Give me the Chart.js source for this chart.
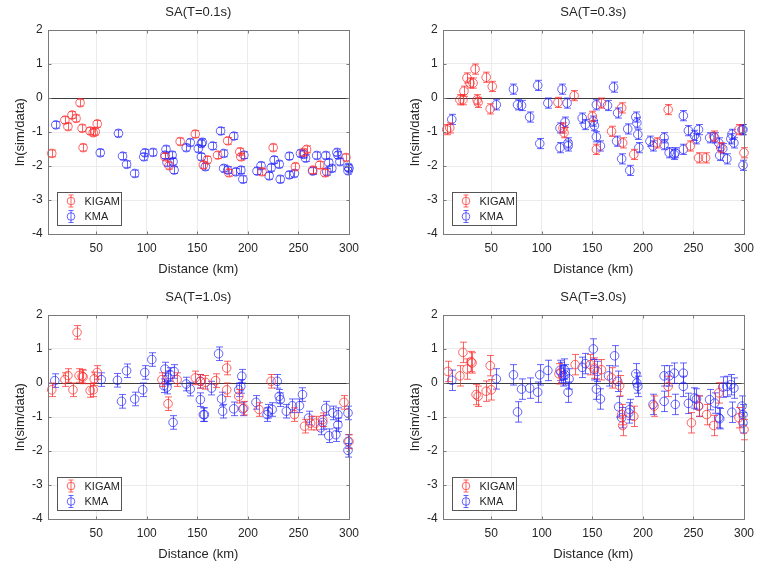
<!DOCTYPE html>
<html><head><meta charset="utf-8">
<script src="https://cdn.jsdelivr.net/npm/chart.js@4.4.0/dist/chart.umd.min.js"></script>
<style>
html,body{margin:0;padding:0;background:#fff;overflow:hidden;width:779px;height:581px;}
.p{position:absolute;width:397px;height:290px;}
</style></head><body>
<div class="p" style="left:0;top:0"><canvas id="c0" width="397" height="290"></canvas></div>
<div class="p" style="left:395px;top:0"><canvas id="c1" width="397" height="290"></canvas></div>
<div class="p" style="left:0;top:285px"><canvas id="c2" width="397" height="290"></canvas></div>
<div class="p" style="left:395px;top:285px"><canvas id="c3" width="397" height="290"></canvas></div>
<script>
const xTicks=[50,100,150,200,250,300];
const yTicks=[-4,-3,-2,-1,0,1,2];
const titles=['SA(T=0.1s)','SA(T=0.3s)','SA(T=1.0s)','SA(T=3.0s)'];
const seriesNames=['KIGAM','KMA'];
const xLabel='Distance (km)';
const yLabel='ln(sim/data)';

// SA(T=0.1s)
const d01K=[6,19,22,26,30,34,36,37,44,47,49,51,118,122,133,148,156,160,170,180,181,192,193,214,225,247,255,258,264,271,276,297];
const v01K=[-1.63,-0.65,-0.84,-0.5,-0.6,-0.14,-0.89,-1.46,-0.97,-1.02,-0.99,-0.76,-1.73,-1.99,-1.28,-1.06,-1.97,-1.82,-1.68,-1.26,-2.2,-1.58,-1.73,-2.17,-1.46,-2.02,-1.6,-1.51,-2.12,-1.97,-2.2,-1.75];
const d01M=[10,54,72,76,80,88,97,98,106,118,119,120,125,126,127,139,143,151,154,155,154,158,165,173,176,176,186,180,188,193,195,196,209,213,221,223,226,231,232,241,241,246,252,255,257,264,268,277,278,280,283,288,289,291,299,299,300];
const v01M=[-0.79,-1.61,-1.04,-1.71,-1.95,-2.22,-1.73,-1.61,-1.6,-1.68,-1.51,-1.9,-1.68,-1.87,-2.12,-1.46,-1.31,-1.49,-1.34,-1.3,-1.73,-2.02,-1.41,-0.97,-1.63,-2.07,-1.12,-2.12,-2.17,-2.12,-2.39,-1.68,-2.15,-1.99,-2.29,-2.05,-1.82,-1.95,-2.39,-1.71,-2.26,-2.22,-1.63,-1.66,-1.77,-2.15,-1.69,-1.69,-2.17,-1.9,-2.07,-1.6,-1.68,-1.87,-2.04,-2.14,-2.07];
const e01=0.1;

// SA(T=0.3s)
const d03K=[6,9,19,22,23,26,29,32,34,36,37,45,49,51,116,121,122,132,150,154,159,169,179,180,191,214,225,247,255,262,270,277,295,300];
const v03K=[-0.93,-0.88,-0.05,-0.05,0.2,0.59,0.44,0.44,0.85,-0.05,-0.13,0.61,-0.32,0.34,-0.13,-0.88,-1.02,0.07,-0.54,-1.51,-0.15,-0.98,-0.29,-1.32,-1.66,-1.32,-0.34,-1.41,-1.76,-1.76,-1.12,-1.46,-0.93,-1.61];
const d03M=[11,55,72,76,80,88,96,98,106,118,118,120,123,125,126,126,140,143,151,152,154,154,158,165,171,175,174,179,185,187,193,194,195,196,207,210,221,221,226,231,232,240,240,245,251,253,255,266,271,275,276,279,283,287,288,290,298,299,299];
const v03M=[-0.63,-0.2,0.26,-0.2,-0.22,-0.56,0.37,-1.34,-0.15,-0.88,-1.46,0.26,-0.71,-0.15,-1.32,-1.41,-0.59,-0.78,-0.68,-0.81,-1.14,-0.2,-1.41,-0.22,0.32,-0.44,-1.27,-1.79,-0.91,-2.13,-0.56,-0.73,-1.07,-1.46,-1.27,-1.41,-1.17,-1.37,-1.61,-1.66,-1.61,-0.52,-1.51,-0.96,-1.1,-1.2,-0.93,-1.17,-1.17,-1.32,-1.69,-1.49,-1.79,-1.2,-1.07,-1.32,-0.93,-1.98,-0.93];
const e03=0.15;

// SA(T=1.0s)
const d10K=[6,19,22,27,31,33,36,37,44,47,48,51,115,121,130,148,153,158,168,179,179,191,196,211,223,246,256,262,267,274,295,300];
const v10K=[-0.2,0.1,0.22,-0.2,1.49,0.22,0.2,0.18,-0.22,-0.2,0.12,0.31,0.1,-0.61,0.1,0.15,0.05,0.02,0.07,0.44,-0.2,-0.39,-0.74,-0.78,0.05,-0.93,-1.27,-1.18,-1.18,-1.08,-0.57,-1.72];
const d10M=[9,55,71,75,80,88,96,98,105,117,118,120,121,123,126,127,139,143,153,153,156,157,164,171,174,175,186,191,193,194,195,208,219,220,224,229,231,232,238,244,251,254,260,272,274,277,280,284,287,289,289,299,299,299];
const v10M=[0.07,0.1,0.08,-0.54,0.36,-0.47,-0.2,0.31,0.69,-0.08,0.41,-0.12,0.15,0.25,-1.16,0.34,-0.03,-0.18,-0.49,0.05,-0.93,-0.93,-0.15,0.86,-0.47,-0.83,-0.76,-0.2,-0.1,0.2,-0.76,-0.57,-0.93,-0.83,-0.78,0.05,-0.39,-0.49,-0.83,-0.67,-0.67,-0.34,-1.03,-1.32,-1.16,-0.74,-1.55,-0.88,-1.52,-1.23,-0.93,-0.88,-1.72,-1.98];
const e10=0.2;

// SA(T=3.0s)
const d30K=[7,19,22,26,30,31,35,37,45,49,50,117,133,148,152,159,169,177,179,180,191,211,225,248,255,263,270,275,295,300];
const v30K=[0.34,0.21,0.9,0.41,0.63,0.59,-0.34,-0.39,-0.24,0.51,-0.2,0.27,0.54,0.54,0.44,0.39,0.15,-0.08,-0.93,-1.25,-0.98,-0.68,-0.1,-1.17,-0.68,-0.93,-1.25,-0.29,-1.02,-1.37];
const d30M=[11,55,72,76,80,88,96,98,106,118,119,121,122,123,126,127,140,143,151,152,154,155,158,166,172,175,176,179,186,187,193,194,195,210,221,221,226,231,232,240,240,245,251,253,255,266,271,275,276,279,283,287,288,290,298,299,299];
const v30M=[0.08,0.12,0.24,-0.85,-0.18,-0.15,-0.27,0.24,0.37,0.37,0.31,0.21,0.41,0.24,-0.27,0.12,0.46,0.57,1.0,0.39,-0.18,0.34,-0.47,0.21,0.8,0.05,-0.7,-1.02,-0.88,-0.78,0.27,0,-0.1,-0.63,0.21,-0.54,0.21,0.29,-0.63,0.29,-0.1,-0.6,-0.44,-0.47,-0.68,-0.49,-0.59,-1.02,-1.05,-0.12,-0.1,-0.05,-0.86,-0.15,-0.68,-0.93,-1.17];
const e30=0.3;

const panels=[
  {k:[d01K,v01K],m:[d01M,v01M],e:e01},
  {k:[d03K,v03K],m:[d03M,v03M],e:e03},
  {k:[d10K,v10K],m:[d10M,v10M],e:e10},
  {k:[d30K,v30K],m:[d30M,v30M],e:e30}
];

const RED='rgba(255,40,40,0.72)';
const BLUE='rgba(30,30,255,0.68)';
const FONT='"Liberation Sans", Arial, Helvetica, sans-serif';
const TXT='#262626';

const errPlugin={
  id:'errbars',
  afterDatasetDraw(chart,args){
    const ds=chart.data.datasets[args.index];
    const xs=chart.scales.x, ys=chart.scales.y, ctx=chart.ctx;
    ctx.save();
    ctx.strokeStyle=ds.borderColor; ctx.lineWidth=1;
    ctx.beginPath();
    ds.data.forEach(p=>{
      const x=Math.round(xs.getPixelForValue(p.x))+0.5;
      const y1=ys.getPixelForValue(p.y-ds.err), y2=ys.getPixelForValue(p.y+ds.err);
      ctx.moveTo(x,y1); ctx.lineTo(x,y2);
      ctx.moveTo(x-3.5,y1); ctx.lineTo(x+3.5,y1);
      ctx.moveTo(x-3.5,y2); ctx.lineTo(x+3.5,y2);
    });
    ctx.stroke();
    ctx.restore();
  }
};

const boxPlugin={
  id:'box',
  afterDraw(chart){
    const {ctx,chartArea:a}=chart;
    const xs=chart.scales.x, ys=chart.scales.y;
    ctx.save();
    ctx.strokeStyle='#7a7a7a'; ctx.lineWidth=1;
    const L=Math.round(a.left)+0.5,R=Math.round(a.right)+0.5,T=Math.round(a.top)+0.5,B=Math.round(a.bottom)+0.5;
    ctx.strokeRect(L,T,R-L,B-T);
    ctx.beginPath();
    xTicks.forEach(v=>{const x=Math.round(xs.getPixelForValue(v))+0.5;ctx.moveTo(x,B);ctx.lineTo(x,B-3);ctx.moveTo(x,T);ctx.lineTo(x,T+3);});
    yTicks.forEach(v=>{const y=Math.round(ys.getPixelForValue(v))+0.5;ctx.moveTo(L,y);ctx.lineTo(L+3,y);ctx.moveTo(R,y);ctx.lineTo(R-3,y);});
    ctx.stroke();
    // legend
    const lx=Math.round(a.left)+9.5, ly=Math.round(a.bottom)-41.5, lw=64, lh=33;
    ctx.fillStyle='#fff'; ctx.fillRect(lx,ly,lw,lh);
    ctx.strokeStyle='#555'; ctx.strokeRect(lx,ly,lw,lh);
    chart.data.datasets.forEach((ds,i)=>{
      const cy=ly+8.5+i*15.5, cx=lx+13.5;
      ctx.strokeStyle=ds.borderColor;
      ctx.beginPath();
      ctx.moveTo(cx,cy-6);ctx.lineTo(cx,cy+6);
      ctx.moveTo(cx-2.5,cy-6);ctx.lineTo(cx+2.5,cy-6);
      ctx.moveTo(cx-2.5,cy+6);ctx.lineTo(cx+2.5,cy+6);
      ctx.stroke();
      ctx.beginPath();ctx.arc(cx,cy,3.8,0,Math.PI*2);ctx.stroke();
      ctx.fillStyle=TXT; ctx.font='11px '+FONT; ctx.textBaseline='middle'; ctx.textAlign='left';
      ctx.fillText(ds.label,lx+27,cy+0.5);
    });
    ctx.restore();
  }
};

panels.forEach((p,i)=>{
  const mk=(arr)=>arr[0].map((d,j)=>({x:d,y:arr[1][j]}));
  new Chart(document.getElementById('c'+i),{
    type:'scatter',
    data:{datasets:[
      {label:seriesNames[0],data:mk(p.k),err:p.e,borderColor:RED,backgroundColor:'rgba(0,0,0,0)',pointRadius:4.3,pointBorderWidth:1,clip:false},
      {label:seriesNames[1],data:mk(p.m),err:p.e,borderColor:BLUE,backgroundColor:'rgba(0,0,0,0)',pointRadius:4.3,pointBorderWidth:1,clip:false}
    ]},
    options:{
      responsive:false,animation:false,devicePixelRatio:1,
      layout:{padding:{left:0,right:48,top:0,bottom:0}},
      plugins:{
        legend:{display:false},tooltip:{enabled:false},
        title:{display:true,fullSize:false,text:titles[i],color:TXT,font:{family:FONT,size:13,weight:'normal'},padding:{top:5,bottom:9.4}}
      },
      scales:{
        x:{type:'linear',min:2,max:300,
          afterBuildTicks:s=>{s.ticks=xTicks.map(v=>({value:v}));},
          afterFit:s=>{s.height=56;},
          grid:{color:'#ebebeb',drawTicks:false},border:{display:false},
          ticks:{color:TXT,font:{family:FONT,size:12},padding:7,maxRotation:0},
          title:{display:true,text:xLabel,color:TXT,font:{family:FONT,size:13},padding:{top:0,bottom:13}}
        },
        y:{type:'linear',min:-4,max:2,
          afterBuildTicks:s=>{s.ticks=yTicks.map(v=>({value:v}));},
          afterFit:s=>{s.width=47.7;},
          grid:{color:c=>c.tick&&c.tick.value===0?'#3c3c3c':'#ebebeb',drawTicks:false},border:{display:false},
          ticks:{color:TXT,font:{family:FONT,size:12},padding:5},
          title:{display:true,text:yLabel,color:TXT,font:{family:FONT,size:13},padding:{top:13,bottom:0}}
        }
      }
    },
    plugins:[errPlugin,boxPlugin]
  });
});
</script>
</body></html>
